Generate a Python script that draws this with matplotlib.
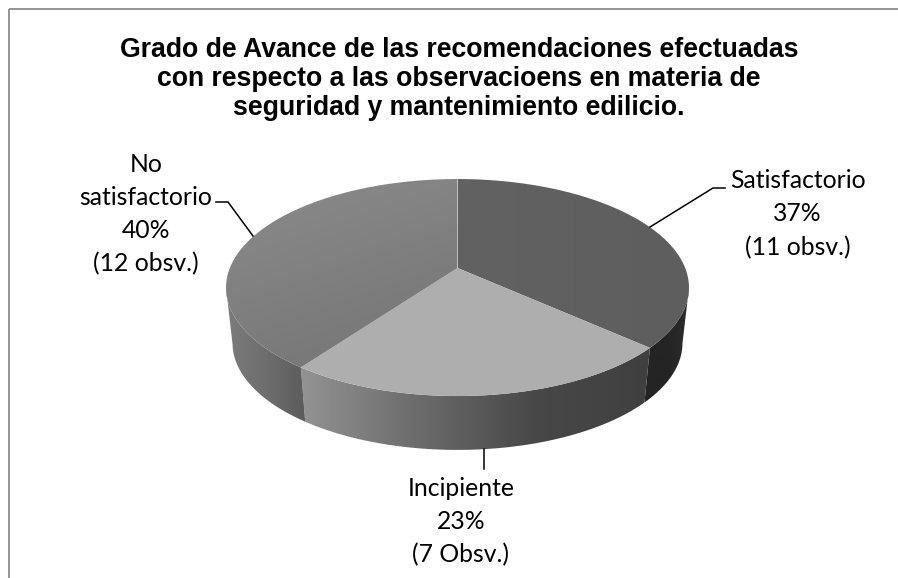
import numpy as np
import matplotlib
matplotlib.use("Agg")
import matplotlib.pyplot as plt
from matplotlib.colors import LinearSegmentedColormap
from matplotlib.path import Path
from matplotlib.patches import PathPatch, Rectangle

title = ("Grado de Avance de las recomendaciones efectuadas\n"
         "con respecto a las observacioens en materia de\n"
         "seguridad y mantenimiento edilicio.")
categories = ["Satisfactorio", "Incipiente", "No\nsatisfactorio"]
observations = [11, 7, 12]
obs_labels = ["(11 obsv.)", "(7 Obsv.)", "(12 obsv.)"]

W, H = 898, 578
fig = plt.figure(figsize=(W / 100, H / 100), dpi=100)
ax = fig.add_axes([0, 0, 1, 1])


def project(t):
    # t is degrees clockwise from the top of the pie, perspective like the excel 3d pie
    a = np.radians(t)
    k = 0.18
    w = 1 + k * np.cos(a)
    return 457.5 + 227.7 * np.sin(a) / w, 268 - 105 * np.cos(a) / w


def lower(x, y):
    return 457.5 + (x - 457.5) * 0.972, 343 + (y - 287.5) * 0.985


def grad_fill(xs, ys, colors, vec=(1, 0), z=2):
    # gradient image clipped to the polygon
    verts = np.column_stack([xs, ys])
    verts = np.vstack([verts, verts[0]])
    patch = PathPatch(Path(verts), fc="none", ec="none", transform=ax.transData)
    ax.add_patch(patch)
    x0, x1, y0, y1 = xs.min(), xs.max(), ys.min(), ys.max()
    gx, gy = np.meshgrid(np.linspace(x0, x1, 300), np.linspace(y0, y1, 200))
    g = gx * vec[0] + gy * vec[1]
    g = (g - g.min()) / (g.max() - g.min())
    cmap = LinearSegmentedColormap.from_list("g", colors)
    im = ax.imshow(g, extent=[x0, x1, y1, y0], cmap=cmap, vmin=0, vmax=1, aspect="auto",
                   origin="upper", zorder=z, interpolation="bilinear")
    im.set_clip_path(patch)


shares = np.array(observations) / sum(observations)
edges = np.concatenate([[0], np.cumsum(shares) * 360])

top_colors = [["#626262", "#5e5e5e"], ["#aeaeae", "#aeaeae"], ["#8b8b8b", "#747474"]]
top_vecs = [(1, 0), (1, 0), (0.35, 1)]
side_colors = [["#242424", "#242424", "#2c2c2c"],
               ["#929292", "#6c6c6c", "#484848", "#404040"],
               ["#7c7c7c", "#6e6e6e", "#5c5c5c"]]

for i in range(3):
    t0, t1 = edges[i], edges[i + 1]
    # side wall, only the front part shows, stops at the silhouette of the pie
    s0, s1 = max(t0, 100.4), min(t1, 259.6)
    ts = np.linspace(s0, s1, 120)
    px, py = project(ts)
    bx, by = lower(px, py)
    grad_fill(np.concatenate([px, bx[::-1]]), np.concatenate([py, by[::-1]]),
              side_colors[i], z=2)

for i in range(3):
    ts = np.linspace(edges[i], edges[i + 1], 200)
    px, py = project(ts)
    xs = np.concatenate([[457.5], px])
    ys = np.concatenate([[268], py])
    grad_fill(xs, ys, top_colors[i], vec=top_vecs[i], z=3)

# leader lines
ax.plot([650, 713, 725], [227, 188, 188], color="black", lw=1.1, zorder=4)
ax.plot([484, 484], [449, 469], color="black", lw=1.1, zorder=4)
ax.plot([253, 228, 216], [236, 202, 202], color="black", lw=1.1, zorder=4)

label_pos = [(797.5, 214), (461, 521.5), (146, 214)]
for i in range(3):
    pct = round(shares[i] * 100)
    ax.text(label_pos[i][0], label_pos[i][1], f"{categories[i]}\n{pct}%\n{obs_labels[i]}",
            ha="center", va="center", family="Lato", fontsize=17.8, linespacing=1.53,
            color="black", zorder=5)

ax.text(459, 79, title, ha="center", va="center", family="Liberation Sans", weight="bold",
        fontsize=19.2, linespacing=1.13, color="black", zorder=5)

# chart border, cut off at right and bottom
ax.add_patch(Rectangle((9, 9), W + 20, H + 20, fc="none", ec="#8c8c8c", lw=1.3, zorder=1))

ax.set_xlim(0, W)
ax.set_ylim(H, 0)
ax.axis("off")
fig.savefig("out.png", dpi=100, facecolor="white")
